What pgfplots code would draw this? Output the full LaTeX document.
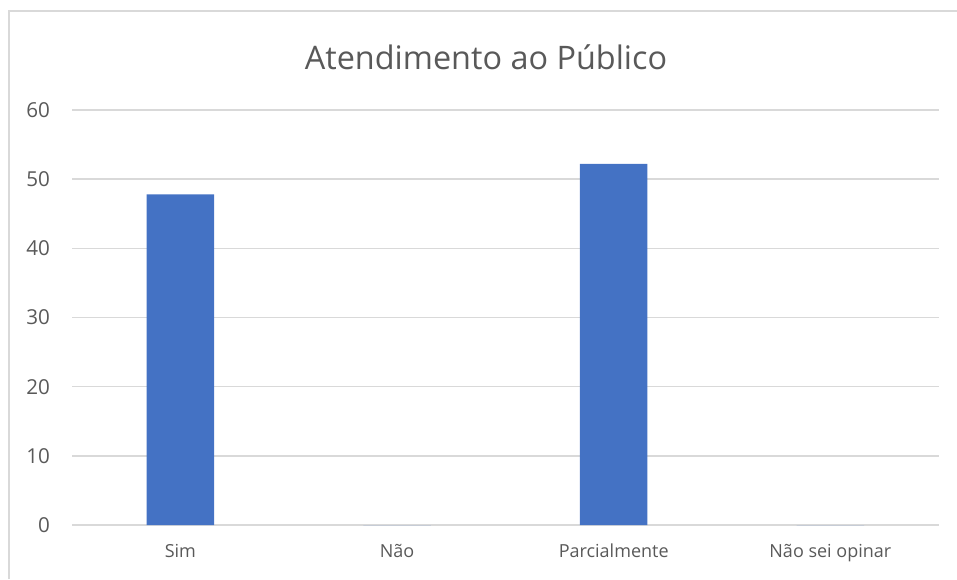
\documentclass[border=0pt]{standalone}
\usepackage{pgfplots}
\pgfplotsset{compat=1.18}
\usepackage{fontspec}
\setmainfont{Open Sans}
\definecolor{barc}{HTML}{4472C4}
\definecolor{gridc}{HTML}{D9D9D9}
\definecolor{txtc}{HTML}{595959}
\begin{document}
\begin{tikzpicture}[x=0.5pt,y=0.5pt]
\useasboundingbox (0,0) rectangle (957,579);
\draw[color=gridc, line width=1pt] (8.5,0) -- (8.5,568) -- (957,568);
\node[font=\fontsize{16.2}{20}\selectfont, text=txtc] at (486,522) {Atendimento ao Público};
\begin{axis}[
  at={(36pt,27pt)}, anchor=south west,
  scale only axis, width=433.35pt, height=207.5pt,
  ymin=0, ymax=60, ytick={0,10,...,60},
  xmin=-0.5, xmax=3.5,
  xtick=data,
  xticklabels={Sim,Não,Parcialmente,Não sei opinar},
  axis line style={draw=none},
  major tick length=0pt,
  ymajorgrids,
  grid style={color=gridc, line width=0.75pt},
  ticklabel style={text=txtc},
  xticklabel style={font=\fontsize{9}{11}\selectfont, yshift=-6pt},
  yticklabel style={font=\fontsize{10.3}{12}\selectfont, xshift=-7.5pt},
  /pgf/number format/assume math mode=true,
  ybar, bar width=0.3115,
]
\addplot[fill=barc, draw=none] coordinates {(0,47.8) (1,0) (2,52.2) (3,0)};
\end{axis}
\end{tikzpicture}
\end{document}
